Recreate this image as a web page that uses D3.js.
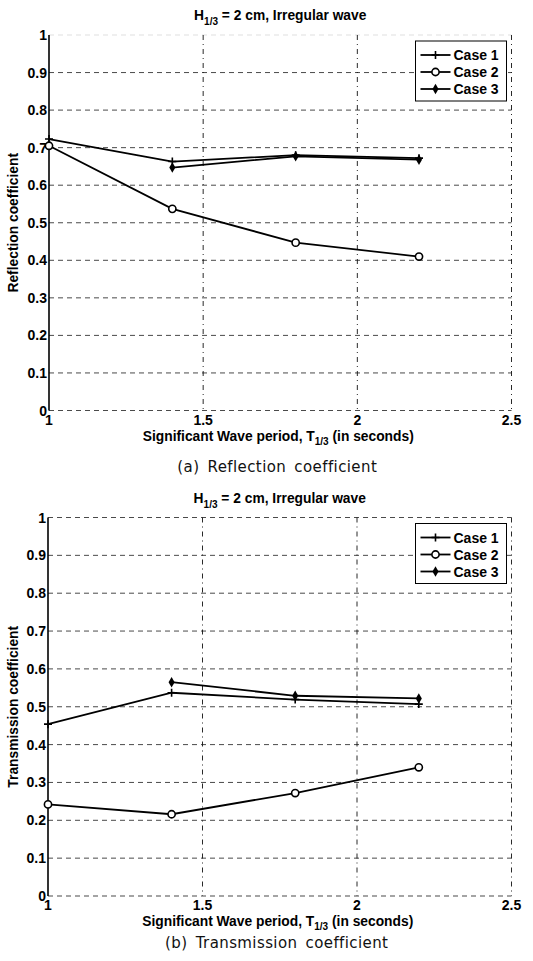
<!DOCTYPE html>
<html lang="en">
<head>
<meta charset="utf-8">
<title>Reflection and transmission coefficients</title>
<script src="https://d3js.org/d3.v7.min.js"></script>
<style>
  body { margin: 0; background: #fff; }
  svg { display: block; }
  .tick-label { font-family: "Liberation Sans", Arial, sans-serif; font-weight: bold; font-size: 14px; fill: #000; }
  .lbl { font-family: "Liberation Sans", Arial, sans-serif; font-weight: bold; font-size: 13.8px; fill: #000; }
  .caption { font-family: "DejaVu Sans", sans-serif; font-size: 15px; fill: #111; letter-spacing: 0.4px; word-spacing: 3px; }
  .legend-text { font-family: "Liberation Sans", Arial, sans-serif; font-weight: bold; font-size: 14px; fill: #000; }
</style>
</head>
<body>
<script>
// data
var periods = [1, 1.4, 1.8, 2.2];
var caseNames = ["Case 1", "Case 2", "Case 3"];

var reflCase1 = [0.723, 0.663, 0.680, 0.672];
var reflCase2 = [0.705, 0.537, 0.447, 0.410];
var reflCase3 = [null, 0.647, 0.677, 0.668];

var transCase1 = [0.454, 0.537, 0.519, 0.507];
var transCase2 = [0.242, 0.216, 0.272, 0.340];
var transCase3 = [null, 0.565, 0.529, 0.522];

var xTicks = [1, 1.5, 2, 2.5];
var yTicks = [0, 0.1, 0.2, 0.3, 0.4, 0.5, 0.6, 0.7, 0.8, 0.9, 1];

var w = 533, h = 961;

var svg = d3.select("body").append("svg")
  .attr("width", w)
  .attr("height", h);

var markerTypes = ["plus", "circle", "diamond"];

function drawMarker(g, type, cx, cy) {
  if (type == "plus") {
    g.append("path")
      .attr("d", "M" + (cx - 4) + "," + cy + "H" + (cx + 4) + "M" + cx + "," + (cy - 4) + "V" + (cy + 4))
      .attr("stroke", "#000").attr("stroke-width", 1.6);
  } else if (type == "circle") {
    g.append("circle")
      .attr("cx", cx).attr("cy", cy).attr("r", 3.6)
      .attr("fill", "#fff").attr("stroke", "#000").attr("stroke-width", 1.6);
  } else {
    g.append("path")
      .attr("d", d3.symbol().type(d3.symbolDiamond).size(32)())
      .attr("transform", "translate(" + cx + "," + cy + ")")
      .attr("fill", "#000");
  }
}

function drawPanel(p) {
  var x = d3.scaleLinear().domain([1, 2.5]).range([p.left, p.right]);
  var y = d3.scaleLinear().domain([0, 1]).range([p.bottom, p.top]);
  var g = svg.append("g");

  // grid
  g.selectAll(".hgrid").data(yTicks).enter().append("line")
    .attr("x1", p.left).attr("x2", p.right)
    .attr("y1", function(d) { return y(d); }).attr("y2", function(d) { return y(d); })
    .attr("stroke", "#111")
    .attr("stroke-opacity", function(d) { return (d == 1 && p.faintTop) ? 0.15 : 0.85; })
    .attr("stroke-width", 0.9)
    .attr("stroke-dasharray", "5,4");

  g.selectAll(".vgrid").data(xTicks.slice(1)).enter().append("line")
    .attr("x1", function(d) { return x(d); }).attr("x2", function(d) { return x(d); })
    .attr("y1", p.top).attr("y2", p.bottom)
    .attr("stroke", "#111")
    .attr("stroke-width", 0.9)
    .attr("stroke-dasharray", "5,4,1,4");

  // left axis
  g.append("line")
    .attr("x1", p.left).attr("x2", p.left)
    .attr("y1", p.top).attr("y2", p.bottom)
    .attr("stroke", "#000").attr("stroke-width", 1.6);

  // tick labels
  g.selectAll(".ylab").data(yTicks).enter().append("text")
    .attr("class", "tick-label")
    .attr("x", p.left - 2)
    .attr("y", function(d) { return y(d) + 5; })
    .attr("text-anchor", "end")
    .text(function(d) { return d3.format("~g")(d); });

  g.selectAll(".xlab").data(xTicks).enter().append("text")
    .attr("class", "tick-label")
    .attr("x", function(d) { return x(d); })
    .attr("y", p.bottom + 14)
    .attr("text-anchor", "middle")
    .text(function(d) { return d3.format("~g")(d); });

  // title
  var cx = (p.left + p.right) / 2;
  var t = g.append("text").attr("class", "lbl")
    .attr("x", cx).attr("y", p.top - 15).attr("text-anchor", "middle");
  t.append("tspan").text("H");
  t.append("tspan").attr("font-size", "10px").attr("dy", 5).text("1/3");
  t.append("tspan").attr("dy", -5).text(" = 2 cm, Irregular wave");

  // x label
  var xl = g.append("text").attr("class", "lbl")
    .attr("x", cx - 2).attr("y", p.bottom + 30).attr("text-anchor", "middle");
  xl.append("tspan").text("Significant Wave period, T");
  xl.append("tspan").attr("font-size", "10px").attr("dy", 4).text("1/3");
  xl.append("tspan").attr("dy", -4).text(" (in seconds)");

  // y label
  g.append("text").attr("class", "lbl")
    .attr("transform", "translate(" + 18 + "," + ((p.top + p.bottom) / 2) + ") rotate(-90)")
    .attr("text-anchor", "middle")
    .text(p.ylabel);

  // caption
  g.append("text").attr("class", "caption")
    .attr("x", cx - 3).attr("y", p.captionY).attr("text-anchor", "middle")
    .text(p.caption);

  // series
  var line = d3.line()
    .defined(function(d) { return d[1] != null; })
    .x(function(d) { return x(d[0]); })
    .y(function(d) { return y(d[1]); });

  p.series.forEach(function(vals, i) {
    var pts = periods.map(function(t, k) { return [t, vals[k]]; });
    g.append("path")
      .attr("d", line(pts))
      .attr("fill", "none").attr("stroke", "#000").attr("stroke-width", 1.8);
    pts.forEach(function(d) {
      if (d[1] != null) drawMarker(g, markerTypes[i], x(d[0]), y(d[1]));
    });
  });

  // legend
  var lx = p.right - 96, ly = p.top + 6;
  g.append("rect")
    .attr("x", lx).attr("y", ly).attr("width", 91).attr("height", 60)
    .attr("fill", "#fff").attr("stroke", "#000").attr("stroke-width", 1);
  caseNames.forEach(function(name, i) {
    var yy = ly + 14 + i * 17;
    g.append("line")
      .attr("x1", lx + 5).attr("x2", lx + 35)
      .attr("y1", yy).attr("y2", yy)
      .attr("stroke", "#000").attr("stroke-width", 1.8);
    drawMarker(g, markerTypes[i], lx + 20, yy);
    g.append("text").attr("class", "legend-text")
      .attr("x", lx + 38).attr("y", yy + 5)
      .text(name);
  });
}

drawPanel({
  left: 49, right: 511.5, top: 35, bottom: 410.5,
  ylabel: "Reflection coefficient",
  caption: "(a) Reflection coefficient",
  captionY: 472,
  faintTop: true,
  series: [reflCase1, reflCase2, reflCase3]
});

drawPanel({
  left: 48, right: 511.5, top: 517.5, bottom: 896,
  ylabel: "Transmission coefficient",
  caption: "(b) Transmission coefficient",
  captionY: 948,
  faintTop: false,
  series: [transCase1, transCase2, transCase3]
});
</script>
</body>
</html>
